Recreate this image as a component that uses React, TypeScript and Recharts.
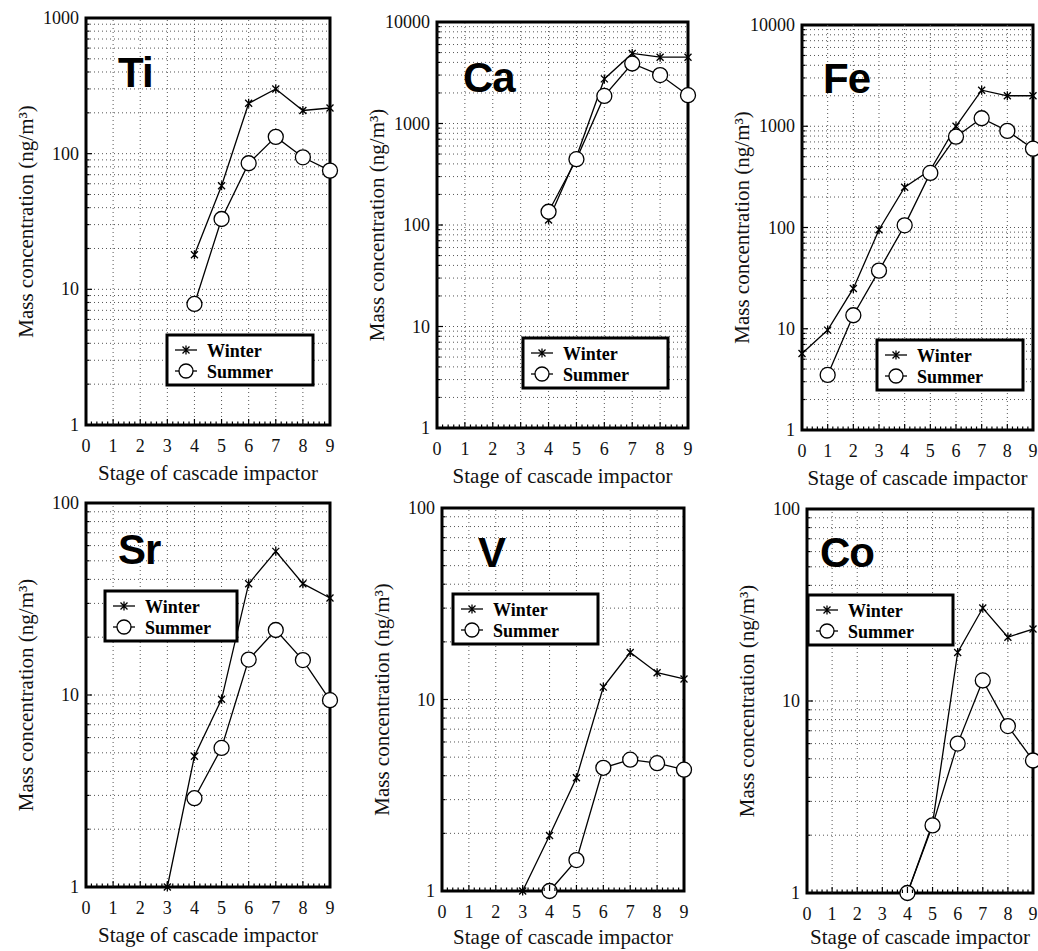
import React from "react";
import { LineChart, Line, XAxis, YAxis, ReferenceLine, ReferenceArea } from "recharts";

// stages 0..9 of the cascade impactor
const stages = [0, 1, 2, 3, 4, 5, 6, 7, 8, 9];
const gridStages = [1, 2, 3, 4, 5, 6, 7, 8];

// mass concentration, ng/m3 (null = not shown)
const tiWinter = [null, null, null, null, 18, 58, 235, 300, 208, 217];
const tiSummer = [null, null, null, null, 7.8, 33, 85, 133, 94, 75];
const caWinter = [null, null, null, null, 112, 470, 2750, 4900, 4500, 4500];
const caSummer = [null, null, null, null, 135, 445, 1870, 3900, 3000, 1900];
const feWinter = [5.7, 9.7, 25, 95, 250, 370, 1000, 2270, 2000, 2000];
const feSummer = [null, 3.5, 13.6, 37.5, 105, 346, 790, 1200, 900, 600];
const srWinter = [null, null, null, 1, 4.8, 9.5, 38, 56, 38, 32];
const srSummer = [null, null, null, null, 2.9, 5.3, 15.3, 21.8, 15.2, 9.4];
const vWinter = [null, null, null, 1, 1.95, 3.9, 11.6, 17.6, 13.8, 12.8];
const vSummer = [null, null, null, null, 1, 1.45, 4.4, 4.85, 4.65, 4.3];
const coWinter = [null, null, null, null, 1, 2.3, 17.9, 30.5, 21.5, 23.7];
const coSummer = [null, null, null, null, 1, 2.25, 6, 12.8, 7.4, 4.9];

const serif = "Liberation Serif, DejaVu Serif, Times New Roman, serif";
const sans = "Liberation Sans, Arial, sans-serif";

const panels = [
  { name: "Ti", winter: tiWinter, summer: tiSummer, decades: 3, box: { l: 86, r: 330, t: 18, b: 425 }, tag: [32, 69], legend: [81, 317, 146], xOff: 5 },
  { name: "Ca", winter: caWinter, summer: caSummer, decades: 4, box: { l: 437, r: 688, t: 22, b: 428 }, tag: [26, 70], legend: [86, 316, 145], xOff: 5 },
  { name: "Fe", winter: feWinter, summer: feSummer, decades: 4, box: { l: 802, r: 1033, t: 25, b: 430 }, tag: [21, 68], legend: [75, 315, 146], xOff: 5 },
  { name: "Sr", winter: srWinter, summer: srSummer, decades: 2, box: { l: 86, r: 330, t: 503, b: 887 }, tag: [32, 61], legend: [19, 88, 132], xOff: 5 },
  { name: "V", winter: vWinter, summer: vSummer, decades: 2, box: { l: 442, r: 684, t: 508, b: 891 }, tag: [36, 59], legend: [11, 86, 145], xOff: 7 },
  { name: "Co", winter: coWinter, summer: coSummer, decades: 2, box: { l: 807, r: 1033, t: 509, b: 893 }, tag: [13, 58], legend: [1, 86, 145], xOff: 9 },
];

function logTicks(decades: number) {
  const out: number[] = [];
  for (let e = 0; e < decades; e++) {
    for (let m = 1; m <= 9; m++) out.push(m * Math.pow(10, e));
  }
  out.push(Math.pow(10, decades));
  return out;
}

const stageMinorTicks = Array.from({ length: 46 }, (_, i) => (i * 2) / 10);

function isPow10(v: number) {
  return [1, 10, 100, 1000, 10000].includes(v);
}

const textStyle = { fontFamily: serif };

function XTick(props: any) {
  const { x, y, payload } = props;
  const major = Number.isInteger(payload.value);
  return (
    <g>
      <line x1={x} x2={x} y1={y} y2={y - (major ? 6 : 3.5)} stroke="#000" strokeWidth={1.2} />
      {major && (
        <text x={x} y={y + 27} textAnchor="middle" fontSize={18} style={textStyle} fill="#111">
          {payload.value}
        </text>
      )}
    </g>
  );
}

function YTick(props: any) {
  const { x, y, payload } = props;
  const major = isPow10(payload.value);
  return (
    <g>
      <line x1={x} x2={x + (major ? 6 : 3.5)} y1={y} y2={y} stroke="#000" strokeWidth={1.2} />
      {major && (
        <text x={x - 7} y={y + 6} textAnchor="end" fontSize={18} style={textStyle} fill="#111">
          {payload.value}
        </text>
      )}
    </g>
  );
}

function starPath(cx: number, cy: number) {
  return `M${cx - 3.5},${cy - 3.5}L${cx + 3.5},${cy + 3.5}M${cx - 3.5},${cy + 3.5}L${cx + 3.5},${cy - 3.5}M${cx},${cy - 4.5}L${cx},${cy + 4.5}`;
}

const winterDot = (p: any) => {
  const { cx, cy, index } = p;
  if (cx == null || cy == null) return <g key={`w-${index}`} />;
  return <path key={`w-${index}`} d={starPath(cx, cy)} stroke="#000" strokeWidth={1.3} fill="none" />;
};

const summerDot = (p: any) => {
  const { cx, cy, index } = p;
  if (cx == null || cy == null) return <g key={`s-${index}`} />;
  return <circle key={`s-${index}`} cx={cx} cy={cy} r={7.5} fill="#fff" stroke="#000" strokeWidth={1.3} />;
};

function Panel({ panel }: { panel: (typeof panels)[number] }) {
  const { box, decades } = panel;
  const rightPad = Math.min(15, 1038 - box.r);
  const width = box.r - box.l + 80 + rightPad;
  const height = box.b - box.t + 75;
  const yMax = Math.pow(10, decades);
  const yTicks = logTicks(decades);
  const rows = stages.map((s, i) => ({ stage: s, winter: panel.winter[i], summer: panel.summer[i] }));

  return (
    <div style={{ position: "absolute", left: box.l - 80, top: box.t - 10 }}>
      <LineChart width={width} height={height} data={rows} margin={{ top: 10, right: rightPad, left: 20, bottom: 5 }}>
        {yTicks.slice(1, -1).map((v) => (
          <ReferenceLine key={`h-${v}`} y={v} stroke="#555" strokeWidth={1} strokeDasharray="1 3" />
        ))}
        {gridStages.map((s) => (
          <ReferenceLine key={`v-${s}`} x={s} stroke="#555" strokeWidth={1} strokeDasharray="1 3" />
        ))}
        <XAxis
          dataKey="stage"
          type="number"
          domain={[0, 9]}
          ticks={stageMinorTicks}
          interval={0}
          height={60}
          axisLine={false}
          tickLine={false}
          tickSize={0}
          tickMargin={0}
          tick={<XTick />}
          label={{ value: "Stage of cascade impactor", position: "insideBottom", offset: panel.xOff, fontSize: 21, fill: "#111", style: textStyle }}
        />
        <YAxis
          type="number"
          scale="log"
          domain={[1, yMax]}
          ticks={yTicks}
          interval={0}
          width={60}
          axisLine={false}
          tickLine={false}
          tickSize={0}
          tickMargin={0}
          tick={<YTick />}
          label={{
            value: "Mass concentration (ng/m³)",
            angle: -90,
            position: "insideLeft",
            offset: 0,
            fontSize: 21,
            fill: "#111",
            style: { textAnchor: "middle", fontFamily: serif },
          }}
        />
        <Line
          dataKey="winter"
          type="linear"
          stroke="#000"
          strokeWidth={1.3}
          dot={winterDot}
          activeDot={false}
          isAnimationActive={false}
        />
        <Line
          dataKey="summer"
          type="linear"
          stroke="#000"
          strokeWidth={1.3}
          dot={summerDot}
          activeDot={false}
          isAnimationActive={false}
        />
        <ReferenceArea x1={0} x2={9} y1={1} y2={yMax} fill="none" stroke="#000" strokeWidth={3} ifOverflow="visible" />
      </LineChart>
    </div>
  );
}

function Overlay() {
  return (
    <svg width={1038} height={951} style={{ position: "absolute", left: 0, top: 0, pointerEvents: "none" }}>
      {panels.map((p) => {
        const lx = p.box.l + p.legend[0];
        const ly = p.box.t + p.legend[1];
        const lw = p.legend[2];
        return (
          <g key={p.name}>
            <text
              x={p.box.l + p.tag[0]}
              y={p.box.t + p.tag[1]}
              style={{ fontFamily: sans }}
              fontWeight="bold"
              fontSize={42}
              letterSpacing={-1}
              fill="#000"
            >
              {p.name}
            </text>
            <rect x={lx} y={ly} width={lw} height={50} fill="#fff" stroke="#000" strokeWidth={3} />
            <line x1={lx + 8} x2={lx + 30} y1={ly + 15} y2={ly + 15} stroke="#000" strokeWidth={1.3} />
            <path d={starPath(lx + 19, ly + 15)} stroke="#000" strokeWidth={1.3} fill="none" />
            <text x={lx + 40} y={ly + 22} style={textStyle} fontWeight="bold" fontSize={18} fill="#000">
              Winter
            </text>
            <line x1={lx + 8} x2={lx + 30} y1={ly + 36} y2={ly + 36} stroke="#000" strokeWidth={1.3} />
            <circle cx={lx + 19} cy={ly + 36} r={7} fill="#fff" stroke="#000" strokeWidth={1.3} />
            <text x={lx + 40} y={ly + 43} style={textStyle} fontWeight="bold" fontSize={18} fill="#000">
              Summer
            </text>
          </g>
        );
      })}
    </svg>
  );
}

export default function App() {
  return (
    <div style={{ position: "relative", width: 1038, height: 951, overflow: "hidden", background: "#fff", fontFamily: serif }}>
      <style>{"body{margin:0;overflow:hidden}"}</style>
      {panels.map((p) => (
        <Panel key={p.name} panel={p} />
      ))}
      <Overlay />
    </div>
  );
}
